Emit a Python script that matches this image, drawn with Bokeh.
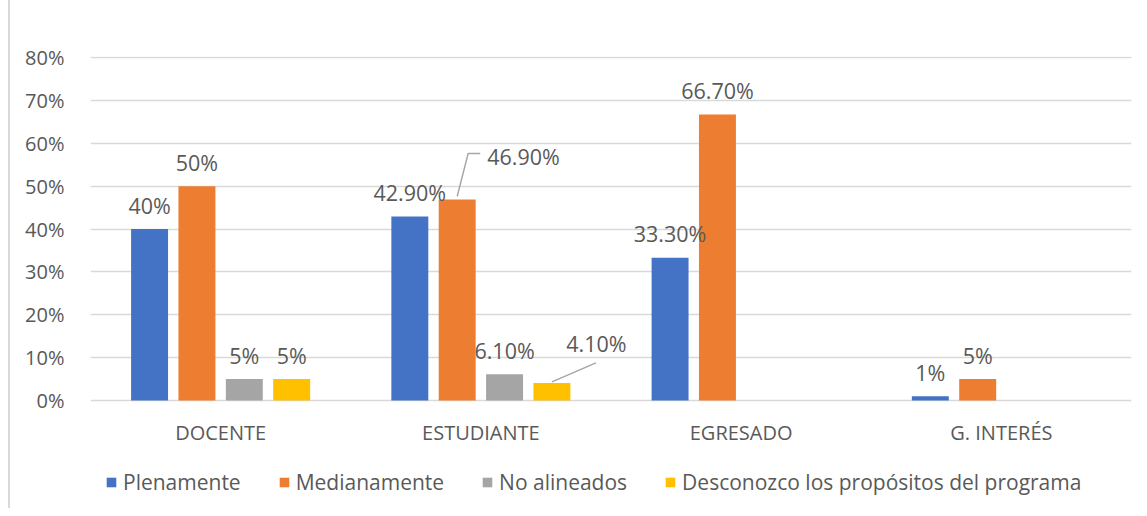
from bokeh.plotting import figure
from bokeh.models import Range1d, FixedTicker, Legend, LegendItem
from bokeh.core.properties import value
from bokeh.embed import file_html
from bokeh.resources import INLINE

categories = ["DOCENTE", "ESTUDIANTE", "EGRESADO", "G. INTERÉS"]
series = ["Plenamente", "Medianamente", "No alineados", "Desconozco los propósitos del programa"]
plenamente = [40, 42.9, 33.3, 1]
medianamente = [50, 46.9, 66.7, 5]
no_alineados = [5, 6.1, None, None]
desconozco = [5, 4.1, None, None]
labels_plen = ["40%", "42.90%", "33.30%", "1%"]
labels_med = ["50%", "46.90%", "66.70%", "5%"]
labels_no = ["5%", "6.10%", None, None]
labels_des = ["5%", "4.10%", None, None]
y_ticks = [0, 10, 20, 30, 40, 50, 60, 70, 80]
y_tick_labels = [f"{t}%" for t in y_ticks]

colors = ["#4472C4", "#ED7D31", "#A5A5A5", "#FFC000"]
offsets = [-0.273, -0.091, 0.091, 0.273]
bar_w = 0.142
FONT = "Open Sans"
TXT = "#595959"
LBL_SIZE = "21.5px"

# layout (pixels)
W, H = 1130, 508
BL, BR, BT, BB = 80, 9, 56, 0
Y_PX = 4.2875            # pixels per percent
Y1 = 80 + 1 / Y_PX
Y0 = Y1 - (H - BT - BB) / Y_PX   # room below 0% for category labels and legend

p = figure(width=W, height=H, output_backend="svg", toolbar_location=None,
           x_range=Range1d(0, len(categories)), y_range=Range1d(Y0, Y1),
           min_border_left=BL, min_border_right=BR, min_border_top=BT, min_border_bottom=BB,
           x_axis_location=None)
p.outline_line_color = None
p.background_fill_color = "white"
p.border_fill_color = "white"
p.styles = {"margin-left": "8px", "border-left": "2px solid #D9D9D9"}

px_x = len(categories) / (W - BL - BR)
px_y = 1 / Y_PX

all_vals = [plenamente, medianamente, no_alineados, desconozco]
all_labels = [labels_plen, labels_med, labels_no, labels_des]
renderers = []
lbl_x, lbl_y, lbl_t = [], [], []
special = {}
for si, (vals, labs) in enumerate(zip(all_vals, all_labels)):
    xs, tops = [], []
    for ci, v in enumerate(vals):
        if v is None:
            continue
        x = ci + 0.5 + offsets[si]
        xs.append(x)
        tops.append(v)
        if (si, ci) in [(1, 1), (3, 1)]:
            special[(si, ci)] = (x, v, labs[ci])
        else:
            lbl_x.append(x); lbl_y.append(v); lbl_t.append(labs[ci])
    r = p.vbar(x=xs, top=tops, bottom=0, width=bar_w, color=colors[si], line_color=None)
    renderers.append(r)

p.text(x=lbl_x, y=lbl_y, text=lbl_t, text_align="center", text_baseline="middle",
       y_offset=-24, text_color=TXT, text_font=value(FONT), text_font_size=LBL_SIZE)

# manually placed labels with leader lines
x, v, t = special[(1, 1)]
p.line(x=[x, x + 11 * px_x, x + 23 * px_x], y=[v + 3 * px_y, v + 46 * px_y, v + 46 * px_y],
       line_color="#A6A6A6", line_width=1.5)
p.text(x=[x + 30 * px_x], y=[v + 43 * px_y], text=[t], text_align="left", text_baseline="middle",
       text_color=TXT, text_font=value(FONT), text_font_size=LBL_SIZE)
x, v, t = special[(3, 1)]
p.line(x=[x, x + 44 * px_x], y=[v + 1 * px_y, v + 20 * px_y], line_color="#A6A6A6", line_width=1.5)
p.text(x=[x + 44.5 * px_x], y=[v + 39 * px_y], text=[t], text_align="center", text_baseline="middle",
       text_color=TXT, text_font=value(FONT), text_font_size=LBL_SIZE)

# category labels (the x axis)
p.text(x=[i + 0.5 for i in range(len(categories))], y=[0] * len(categories), text=categories,
       text_align="center", text_baseline="middle", y_offset=32,
       text_color=TXT, text_font=value(FONT), text_font_size="20px")

# y axis
p.yaxis.ticker = FixedTicker(ticks=y_ticks)
p.yaxis.major_label_overrides = {t: l for t, l in zip(y_ticks, y_tick_labels)}
p.yaxis.axis_line_color = None
p.yaxis.major_tick_line_color = None
p.yaxis.minor_tick_line_color = None
p.yaxis.major_label_text_color = TXT
p.yaxis.major_label_text_font = FONT
p.yaxis.major_label_text_font_size = "20px"
p.yaxis.major_label_standoff = 20
p.xgrid.grid_line_color = None
p.ygrid.ticker = FixedTicker(ticks=y_ticks)
p.ygrid.grid_line_color = "#D9D9D9"
p.ygrid.grid_line_width = 1.5

legend = Legend(items=[LegendItem(label=s, renderers=[r]) for s, r in zip(series, renderers)],
                orientation="horizontal", location=(15, 12), padding=0, margin=0,
                border_line_color=None, background_fill_alpha=0,
                glyph_width=12, glyph_height=12, label_standoff=6, spacing=37,
                label_text_font=FONT, label_text_font_size="21px", label_text_color=TXT,
                label_height=22)
p.add_layout(legend, "center")

open("out.html", "w").write(file_html(p, INLINE))
